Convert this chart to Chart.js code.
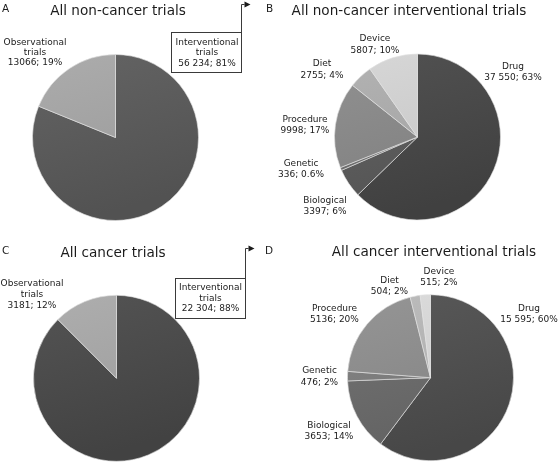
<!DOCTYPE html>
<html>
<head>
<meta charset="utf-8">
<script src="https://cdn.jsdelivr.net/npm/chart.js@4/dist/chart.umd.min.js"></script>
<style>
  html, body { margin: 0; padding: 0; background: #fff; }
  #wrap { position: relative; width: 560px; height: 463px; }
  #wrap canvas { position: absolute; left: 0; top: 0; }
</style>
</head>
<body>
<div id="wrap">
  <canvas id="pie-a" width="560" height="463"></canvas>
  <canvas id="pie-b" width="560" height="463"></canvas>
  <canvas id="pie-c" width="560" height="463"></canvas>
  <canvas id="pie-d" width="560" height="463"></canvas>
</div>
<script>
// Trial counts (slices run clockwise from 12 o'clock)
const trialKinds = ['Interventional trials', 'Observational trials'];
const nonCancerTrials = [56234, 13066];
const nonCancerTrialText = ['56 234; 81%', '13066; 19%'];
const cancerTrials = [22304, 3181];
const cancerTrialText = ['22 304; 88%', '3181; 12%'];

const interventionTypes = ['Drug', 'Biological', 'Genetic', 'Procedure', 'Diet', 'Device'];
const nonCancerInterventions = [37550, 3397, 336, 9998, 2755, 5807];
const nonCancerInterventionText = ['37 550; 63%', '3397; 6%', '336; 0.6%', '9998; 17%', '2755; 4%', '5807; 10%'];
const cancerInterventions = [15595, 3653, 476, 5136, 504, 515];
const cancerInterventionText = ['15 595; 60%', '3653; 14%', '476; 2%', '5136; 20%', '504; 2%', '515; 2%'];

const FONT = '"DejaVu Sans", Verdana, sans-serif';

// small helper: lighten/darken a #rrggbb grey
function shade(hex, d) {
  const n = parseInt(hex.slice(1), 16);
  const c = (v) => Math.max(0, Math.min(255, v + d));
  return `rgb(${c(n >> 16)},${c((n >> 8) & 255)},${c(n & 255)})`;
}

// one scriptable fill per chart, picks the grey by slice index
function gradientFill(colors) {
  return (ctx) => {
    const base = colors[ctx.dataIndex % colors.length];
    const area = ctx.chart.chartArea;
    if (!area) return base;
    const g = ctx.chart.ctx.createLinearGradient(area.left, area.top, area.left + area.width * 0.3, area.bottom);
    g.addColorStop(0, shade(base, 10));
    g.addColorStop(1, shade(base, -8));
    return g;
  };
}

const panelText = {
  id: 'panelText',
  afterDraw(chart, args, o) {
    const ctx = chart.ctx;
    ctx.save();
    ctx.fillStyle = '#1b1b1b';
    ctx.textBaseline = 'middle';

    ctx.textAlign = 'center';
    ctx.font = `13.6px ${FONT}`;
    ctx.fillText(o.title, o.titleAt[0], o.titleAt[1]);

    ctx.textAlign = 'left';
    ctx.font = `10.5px ${FONT}`;
    ctx.fillText(o.letter, o.letterAt[0], o.letterAt[1]);

    ctx.textAlign = 'center';
    ctx.font = `9px ${FONT}`;
    const names = chart.data.labels;
    o.labelAt.forEach((p, i) => {
      const lines = names[i].split(' ').concat(o.values[i]);
      lines.forEach((ln, k) => ctx.fillText(ln, p[0], p[1] + k * p[2]));
    });

    if (o.box) {
      const b = o.box;
      ctx.strokeStyle = '#3a3a3a';
      ctx.lineWidth = 1;
      ctx.strokeRect(b.x + 0.5, b.y + 0.5, b.w, b.h);
      const ax = b.x + b.w + 0.5;
      ctx.beginPath();
      ctx.moveTo(ax, b.y + 0.5);
      ctx.lineTo(ax, b.arrowY + 0.5);
      ctx.lineTo(ax + 3, b.arrowY + 0.5);
      ctx.stroke();
      ctx.fillStyle = '#1b1b1b';
      ctx.beginPath();
      ctx.moveTo(ax + 3, b.arrowY - 2.5);
      ctx.lineTo(ax + 9, b.arrowY + 0.5);
      ctx.lineTo(ax + 3, b.arrowY + 3.5);
      ctx.closePath();
      ctx.fill();
    }
    ctx.restore();
  }
};

function makePie(id, labels, values, colors, cx, cy, r, text) {
  new Chart(document.getElementById(id), {
    type: 'pie',
    data: {
      labels: labels,
      datasets: [{
        data: values,
        backgroundColor: gradientFill(colors),
        borderColor: 'rgba(225,225,225,0.8)',
        borderWidth: 0.8,
        radius: r
      }]
    },
    options: {
      responsive: false,
      animation: false,
      events: [],
      layout: {
        padding: { left: cx - r, top: cy - r, right: 560 - cx - r, bottom: 463 - cy - r }
      },
      plugins: {
        legend: { display: false },
        tooltip: { enabled: false },
        panelText: text
      }
    },
    plugins: [panelText]
  });
}

makePie('pie-a', trialKinds, nonCancerTrials, ['#5a5a5a', '#a2a2a2'], 115.5, 137.5, 83, {
  title: 'All non-cancer trials', titleAt: [118, 11.5],
  letter: 'A', letterAt: [2, 9],
  values: nonCancerTrialText,
  labelAt: [[207, 42.5, 10.5], [35, 43, 10]],
  box: { x: 171, y: 32, w: 70, h: 40, arrowY: 4 }
});

makePie('pie-b', interventionTypes, nonCancerInterventions,
  ['#484848', '#5b5b5b', '#6e6e6e', '#878787', '#a9a9a9', '#cdcdcd'], 417.5, 137, 83, {
  title: 'All non-cancer interventional trials', titleAt: [409, 11.5],
  letter: 'B', letterAt: [266, 9],
  values: nonCancerInterventionText,
  labelAt: [[513, 66.5, 11.5], [325, 200.5, 11], [301, 164, 11], [305, 120, 11], [322, 64, 12], [375, 39, 11.5]]
});

makePie('pie-c', trialKinds, cancerTrials, ['#4a4a4a', '#a4a4a4'], 116.5, 378.3, 83, {
  title: 'All cancer trials', titleAt: [113, 253.5],
  letter: 'C', letterAt: [2, 251.5],
  values: cancerTrialText,
  labelAt: [[210.5, 288, 10.5], [32, 284, 11]],
  box: { x: 175, y: 278, w: 70, h: 40, arrowY: 248 }
});

makePie('pie-d', interventionTypes, cancerInterventions,
  ['#4f4f4f', '#6a6a6a', '#7c7c7c', '#8b8b8b', '#b2b2b2', '#d2d2d2'], 430.5, 377.7, 83, {
  title: 'All cancer interventional trials', titleAt: [434, 252.5],
  letter: 'D', letterAt: [265, 251.5],
  values: cancerInterventionText,
  labelAt: [[529, 308.5, 11.5], [329, 426, 11], [319.5, 371, 11.5], [334.5, 309, 11], [389.5, 280.5, 11.5], [439, 272, 11]]
});
</script>
</body>
</html>
